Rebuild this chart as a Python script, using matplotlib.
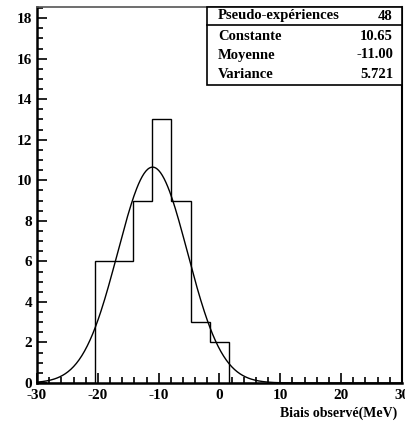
import numpy as np
import matplotlib.pyplot as plt
from matplotlib.ticker import MultipleLocator

# histogram: 19 bins between -30 and 30
counts = [0, 0, 0, 6, 6, 9, 13, 9, 3, 2, 0, 0, 0, 0, 0, 0, 0, 0, 0]
x_min, x_max = -30, 30

# fit parameters shown in the stats box
n_entries = 48
constante = 10.65
moyenne = -11.00
sigma = 5.721

stat_labels = ["Constante", "Moyenne", "Variance"]
stat_values = ["10.65", "-11.00", "5.721"]

plt.rcParams['font.family'] = ['Liberation Serif', 'DejaVu Serif']
plt.rcParams['font.weight'] = 'bold'

fig = plt.figure(figsize=(4.06, 4.23), dpi=100)
ax = fig.add_axes([37/406, 1-383/423, (402-37)/406, (383-7)/423])

edges = np.linspace(x_min, x_max, len(counts) + 1)
ax.stairs(counts, edges, color='black', lw=1.0)

xs = np.linspace(x_min, x_max, 400)
ax.plot(xs, constante * np.exp(-0.5 * ((xs - moyenne) / sigma) ** 2), color='black', lw=1.0)

ax.set_xlim(x_min, x_max)
ax.set_ylim(0, 18.55)
ax.xaxis.set_major_locator(MultipleLocator(10))
ax.xaxis.set_minor_locator(MultipleLocator(2))
ax.yaxis.set_major_locator(MultipleLocator(2))
ax.yaxis.set_minor_locator(MultipleLocator(0.5))
ax.tick_params(which='both', direction='in', top=False, right=False, labelsize=11, width=1.2)
ax.tick_params(which='major', length=7)
ax.tick_params(which='minor', length=4)
ax.tick_params(axis='x', pad=4)
for lab in ax.get_yticklabels():
    lab.set_fontweight('bold')
ax.set_xticks([-30, -20, -10, 0, 10, 20, 30])
ax.set_xticklabels(['-30', '-20', '-10', '0', '10', '20', '30'], fontweight='bold')
for s in ['left', 'bottom']:
    ax.spines[s].set_linewidth(1.8)
ax.spines['top'].set_linewidth(1.2)
ax.spines['top'].set_color('#555555')
ax.spines['right'].set_linewidth(1.5)

fig.text(397/406, 1-413/423, "Biais observé(MeV)", fontsize=10, fontweight='bold', ha='right', va='center')

# stats box
bx0, bx1 = 207/406, 402/406
by_top, by_sep, by_bot = 1-7/423, 1-25/423, 1-85/423
fig.add_artist(plt.Rectangle((bx0, by_bot), bx1-bx0, by_top-by_bot, transform=fig.transFigure,
                             facecolor='white', edgecolor='black', lw=1.2, zorder=5))
fig.add_artist(plt.Line2D([bx0, bx1], [by_sep, by_sep], transform=fig.transFigure, color='black', lw=1.2, zorder=6))
fig.text(218/406, 1-16/423, "Pseudo-expériences", fontsize=10.5, fontweight='bold', va='center', zorder=7)
fig.text(393/406, 1-16/423, str(n_entries), fontsize=10.5, fontweight='bold', va='center', ha='right', zorder=7)
rows_y = [36, 55, 74]
for yy, lab, val in zip(rows_y, stat_labels, stat_values):
    fig.text(218/406, 1-yy/423, lab, fontsize=10.5, fontweight='bold', va='center', zorder=7)
    fig.text(393/406, 1-yy/423, val, fontsize=10.5, fontweight='bold', va='center', ha='right', zorder=7)

fig.savefig("out.png", dpi=100)
